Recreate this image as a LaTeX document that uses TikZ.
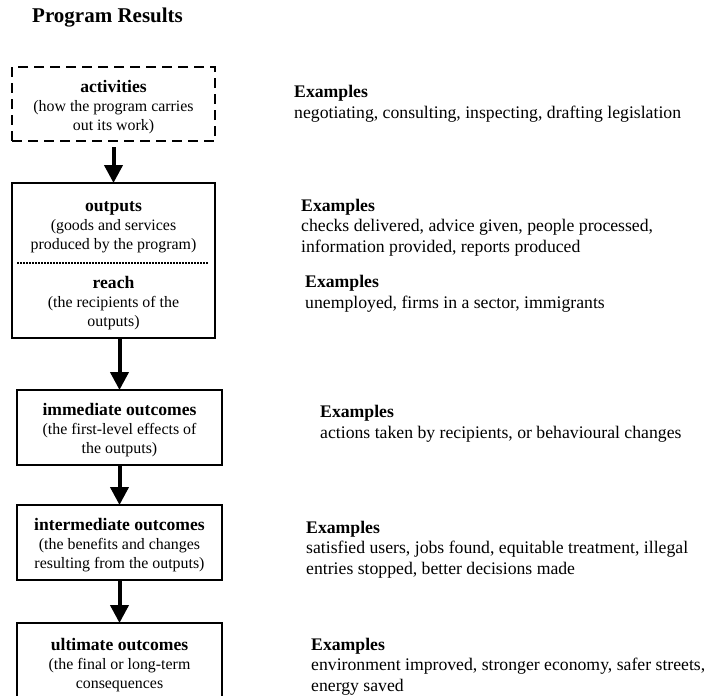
\documentclass[tikz,border=0pt]{standalone}
\usepackage{fontspec}
\setmainfont{Liberation Serif}
\usetikzlibrary{positioning,arrows.meta}
\tikzset{>={Triangle[width=18pt,length=18pt]}}

\begin{document}
\begin{tikzpicture}[x=1pt,y=-1pt]
    \tikzset{
    stage/.style={draw, line width=2pt, minimum width=205pt, minimum height=75pt, inner sep=0pt, outer sep=0pt, align=center, anchor=north, font=\fontsize{15.9}{19}\selectfont},
    planned/.style={stage, dash pattern=on 10pt off 6pt, minimum width=203pt, minimum height=74pt},
    half/.style={stage, draw=none, minimum width=203pt},
    example/.style={anchor=base west, align=left, inner sep=0pt, font=\fontsize{17.7}{20.5}\selectfont},
    flow/.style={->, line width=4pt},
    }
    \def\Head#1{{\fontsize{17.6}{19}\selectfont\bfseries\rule{0pt}{18pt}#1}}

    \useasboundingbox (0,0) rectangle (710,696);

    % Title.
    \node [anchor=base west, inner sep=0pt, font=\fontsize{21}{24}\selectfont\bfseries] (title) at (32,23) {Program Results};

    % Result chain.
    \node [planned] (activities) at (113.5,67) {\Head{activities}\\(how the program carries\\out its work)};
    \node [half, minimum height=80pt] (outputs) at (113.5,183) {\Head{outputs}\\(goods and services\\produced by the program)};
    \node [half, minimum height=75pt] (reach)   at (113.5,263) {\Head{reach}\\(the recipients of the\\outputs)};
    \draw [line width=2pt] (outputs.north west) rectangle (reach.south east);
    \draw [line width=1.5pt, dash pattern=on 1.5pt off 1.5pt] ([xshift=5pt]outputs.south west) -- ([xshift=-7pt]outputs.south east);
    \node [stage] (immediate)    at (119.5,390) {\Head{immediate outcomes}\\(the first-level effects of\\the outputs)};
    \node [stage] (intermediate) at (119.5,505) {\Head{intermediate outcomes}\\(the benefits and changes\\resulting from the outputs)};
    \node [stage, minimum height=78pt] (ultimate) at (119.5,623) {\Head{ultimate outcomes}\\(the final or long-term\\consequences};

    % Arrows.
    \draw [flow, shorten <=6pt] (activities) -- (outputs);
    \draw [flow] (reach.south -| immediate.north) -- (immediate.north);
    \draw [flow] (immediate) -- (intermediate);
    \draw [flow] (intermediate) -- (ultimate);

    % Examples (anchored at the last line).
    \node [example] (actex)   at (294,118) {\textbf{Examples}\\negotiating, consulting, inspecting, drafting legislation};
    \node [example] (outex)   at (301,252) {\textbf{Examples}\\checks delivered, advice given, people processed,\\information provided, reports produced};
    \node [example] (reachex) at (305,308) {\textbf{Examples}\\unemployed, firms in a sector, immigrants};
    \node [example] (immex)   at (320,438) {\textbf{Examples}\\actions taken by recipients, or behavioural changes};
    \node [example] (interex) at (306,574) {\textbf{Examples}\\satisfied users, jobs found, equitable treatment, illegal\\entries stopped, better decisions made};
    \node [example] (ultex)   at (311,691) {\textbf{Examples}\\environment improved, stronger economy, safer streets,\\energy saved};
\end{tikzpicture}
\end{document}
